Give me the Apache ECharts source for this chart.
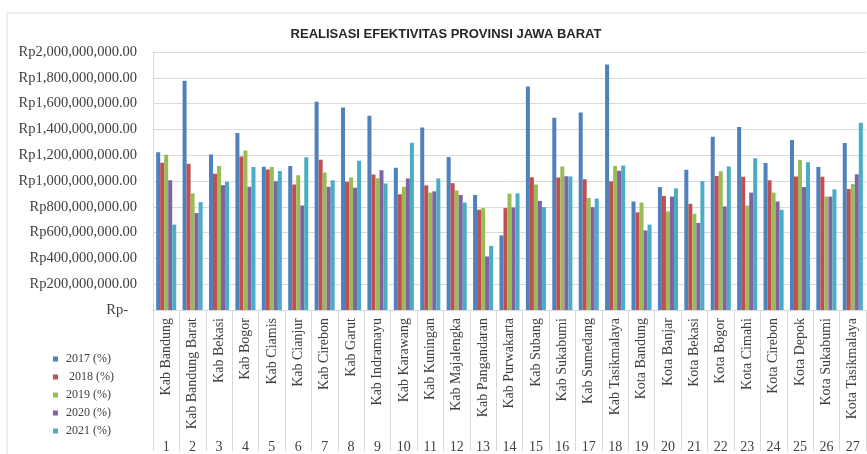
<!DOCTYPE html>
<html>
<head>
<meta charset="utf-8">
<title>Realisasi Efektivitas Provinsi Jawa Barat</title>
<script src="https://cdn.jsdelivr.net/npm/echarts@6/dist/echarts.min.js"></script>
<style>
    html, body { margin: 0; padding: 0; background: #fff; }
    #chart { width: 867px; height: 454px; }
</style>
</head>
<body>
<div id="chart"></div>
<script>
// nama kab/kota dan nomor urut
var daerah = ['Kab Bandung', 'Kab Bandung Barat', 'Kab Bekasi', 'Kab Bogor', 'Kab Ciamis', 'Kab Cianjur',
    'Kab Cirebon', 'Kab Garut', 'Kab Indramayu', 'Kab Karawang', 'Kab Kuningan', 'Kab Majalengka',
    'Kab Pangandaran', 'Kab Purwakarta', 'Kab Subang', 'Kab Sukabumi', 'Kab Sumedang', 'Kab Tasikmalaya',
    'Kota Bandung', 'Kota Banjar', 'Kota Bekasi', 'Kota Bogor', 'Kota Cimahi', 'Kota Cirebon',
    'Kota Depok', 'Kota Sukabumi', 'Kota Tasikmalaya'];
var nomor = ['1', '2', '3', '4', '5', '6', '7', '8', '9', '10', '11', '12', '13', '14',
    '15', '16', '17', '18', '19', '20', '21', '22', '23', '24', '25', '26', '27'];

var namaSeri = ['2017 (%)', ' 2018 (%)', '2019 (%)', '2020 (%)', '2021 (%)'];

var th2017 = [1223e6, 1778e6, 1205e6, 1373e6, 1111e6, 1116e6, 1615e6, 1569e6, 1506e6, 1103e6, 1414e6, 1187e6,
    892e6, 578e6, 1732e6, 1490e6, 1531e6, 1903e6, 841e6, 953e6, 1088e6, 1343e6, 1419e6, 1139e6, 1317e6, 1108e6, 1294e6];
var th2018 = [1141e6, 1134e6, 1057e6, 1190e6, 1090e6, 973e6, 1164e6, 994e6, 1050e6, 897e6, 966e6, 983e6,
    777e6, 790e6, 1029e6, 1027e6, 1014e6, 999e6, 757e6, 884e6, 823e6, 1039e6, 1032e6, 1006e6, 1034e6, 1032e6, 938e6];
var th2019 = [1203e6, 904e6, 1116e6, 1236e6, 1108e6, 1045e6, 1065e6, 1027e6, 1022e6, 955e6, 910e6, 927e6,
    790e6, 902e6, 973e6, 1113e6, 869e6, 1116e6, 833e6, 764e6, 746e6, 1075e6, 810e6, 910e6, 1162e6, 879e6, 976e6];
var th2020 = [1006e6, 752e6, 968e6, 955e6, 999e6, 810e6, 955e6, 948e6, 1083e6, 1019e6, 920e6, 892e6,
    415e6, 795e6, 846e6, 1037e6, 797e6, 1080e6, 617e6, 879e6, 675e6, 803e6, 910e6, 841e6, 953e6, 879e6, 1052e6];
var th2021 = [662e6, 836e6, 994e6, 1108e6, 1078e6, 1185e6, 1006e6, 1157e6, 981e6, 1297e6, 1019e6, 833e6,
    497e6, 904e6, 797e6, 1034e6, 864e6, 1121e6, 662e6, 943e6, 999e6, 1113e6, 1177e6, 777e6, 1146e6, 935e6, 1452e6];

var warna = ['#4F81BD', '#C0504D', '#9BBB59', '#8064A2', '#4BACC6'];
var dataSeri = [th2017, th2018, th2019, th2020, th2021];

var serif = '"Liberation Serif", "DejaVu Serif", serif';

function formatRp(val) {
    if (val === 0) {
        return '{nol|Rp-}';
    }
    var s = String(Math.round(val)).replace(/\B(?=(\d{3})+(?!\d))/g, ',');
    return 'Rp' + s + '.00';
}

var ec = echarts.init(document.getElementById('chart'));

var series = [];
for (var i = 0; i < dataSeri.length; i++) {
    series.push({
        name: namaSeri[i],
        type: 'bar',
        data: dataSeri[i],
        barGap: '0%',
        barCategoryGap: '24%',
        itemStyle: { color: warna[i] }
    });
}

var option = {
    animation: false,
    backgroundColor: '#fff',
    graphic: [{
        type: 'rect',
        silent: true,
        shape: { x: 7, y: 13, width: 900, height: 500 },
        style: { fill: 'none', stroke: '#d9d9d9', lineWidth: 1 }
    }],
    title: {
        text: 'REALISASI EFEKTIVITAS PROVINSI JAWA BARAT',
        left: 441,
        textAlign: 'center',
        top: 23,
        textStyle: {
            fontFamily: '"Liberation Sans", Arial, sans-serif',
            fontWeight: 'bold',
            fontSize: 13,
            color: '#262626'
        }
    },
    legend: {
        orient: 'vertical',
        left: 48,
        top: 348,
        icon: 'rect',
        itemWidth: 5,
        itemHeight: 5,
        itemGap: 6,
        data: namaSeri,
        textStyle: {
            fontFamily: serif,
            fontSize: 12,
            lineHeight: 12,
            color: '#404040',
            padding: [0, 0, 0, 3]
        }
    },
    grid: {
        left: 153,
        right: 1,
        top: 52,
        bottom: 141,
        containLabel: false
    },
    xAxis: [{
        type: 'category',
        data: daerah,
        axisLine: { lineStyle: { color: '#d9d9d9' } },
        axisTick: { show: true, length: 141, lineStyle: { color: '#d9d9d9' } },
        axisLabel: {
            interval: 0,
            rotate: 90,
            margin: 8,
            fontFamily: serif,
            fontSize: 14,
            color: '#404040'
        }
    }, {
        type: 'category',
        data: nomor,
        position: 'bottom',
        offset: 130,
        axisLine: { show: false },
        axisTick: { show: false },
        axisLabel: {
            interval: 0,
            margin: 0,
            fontFamily: serif,
            fontSize: 14,
            color: '#404040'
        }
    }],
    yAxis: {
        type: 'value',
        min: 0,
        max: 2000000000,
        interval: 200000000,
        axisLine: { show: true, lineStyle: { color: '#d9d9d9' } },
        axisTick: { show: false },
        splitLine: { lineStyle: { color: '#d9d9d9' } },
        axisLabel: {
            margin: 16,
            fontFamily: serif,
            fontSize: 14.5,
            color: '#404040',
            formatter: formatRp,
            rich: {
                nol: { fontFamily: serif, fontSize: 14.5, color: '#404040', padding: [0, 9, 0, 0] }
            }
        }
    },
    series: series
};

ec.setOption(option);
</script>
</body>
</html>
